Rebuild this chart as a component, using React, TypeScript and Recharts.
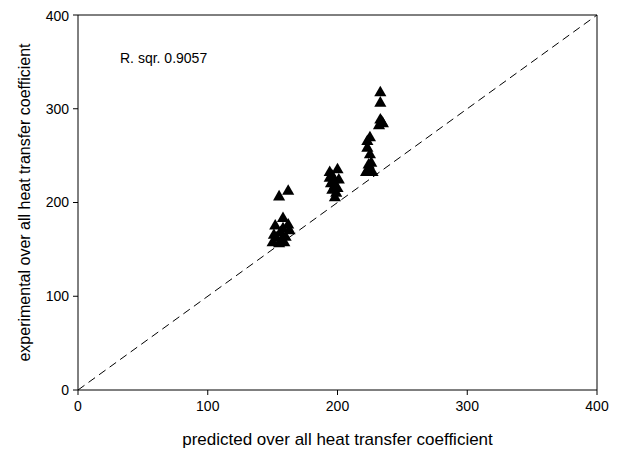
import React from "react";
import {
  ScatterChart,
  Scatter,
  XAxis,
  YAxis,
  ZAxis,
  ReferenceLine,
} from "recharts";

const predicted = [
  150, 152, 153, 155, 156, 157, 158, 159, 160, 162, 163, 155, 162, 151, 158,
  194, 195, 196, 197, 198, 200, 201, 194, 199, 196, 198, 200,
  222, 223, 224, 225, 226, 223, 225, 227, 224, 233, 233, 233, 235, 232, 234,
];
const experimental = [
  157, 175, 162, 156, 168, 160, 183, 157, 163, 176, 170, 206, 212, 165, 172,
  232, 220, 213, 224, 205, 235, 224, 226, 210, 228, 218, 215,
  232, 265, 240, 251, 242, 258, 269, 232, 236, 317, 306, 288, 284, 282, 286,
];
const axisTicks = [0, 100, 200, 300, 400];
const rSquared = "R. sqr. 0.9057";
const xTitle = "predicted over all heat transfer coefficient";
const yTitle = "experimental over all heat transfer coefficient";

const points = predicted.map((p, i) => ({ x: p, y: experimental[i] }));

const font = "'Liberation Sans', Arial, sans-serif";

export default function App() {
  return (
    <div style={{ position: "relative", width: 606, height: 446, fontFamily: font }}>
      <ScatterChart
        width={606}
        height={446}
        margin={{ top: 7, right: 17, left: 0, bottom: 0 }}
      >
        <XAxis
          type="number"
          dataKey="x"
          domain={[0, 400]}
          ticks={axisTicks}
          stroke="#000"
          tickSize={5}
          tickMargin={6}
          height={64}
          tick={{ fontSize: 14, fill: "#000", fontFamily: font }}
          label={{
            content: ({ viewBox }: any) => (
              <text
                x={viewBox.x + viewBox.width / 2}
                y={437}
                textAnchor="middle"
                fontSize={17}
                fontFamily={font}
                fill="#000"
              >
                {xTitle}
              </text>
            ),
          }}
        />
        <YAxis
          type="number"
          dataKey="y"
          domain={[0, 400]}
          ticks={axisTicks}
          stroke="#000"
          tickSize={5}
          tickMargin={4}
          width={70}
          tick={{ fontSize: 14, fill: "#000", fontFamily: font }}
          label={{
            content: ({ viewBox }: any) => {
              const cy = viewBox.y + viewBox.height / 2;
              return (
                <text
                  x={22}
                  y={cy}
                  textAnchor="middle"
                  fontSize={16}
                  fontFamily={font}
                  fill="#000"
                  transform={`rotate(-90, 22, ${cy})`}
                >
                  {yTitle}
                </text>
              );
            },
          }}
        />
        <ZAxis range={[100, 100]} />
        <ReferenceLine y={400} stroke="#000" />
        <ReferenceLine x={400} stroke="#000" />
        <ReferenceLine
          segment={[
            { x: 0, y: 0 },
            { x: 400, y: 400 },
          ]}
          stroke="#000"
          strokeDasharray="8 5"
        />
        <Scatter
          data={points}
          fill="#000"
          shape="triangle"
          isAnimationActive={false}
        />
      </ScatterChart>
      <div
        style={{
          position: "absolute",
          left: 112,
          top: 42,
          fontSize: 14,
          color: "#000",
        }}
      >
        {rSquared}
      </div>
    </div>
  );
}
